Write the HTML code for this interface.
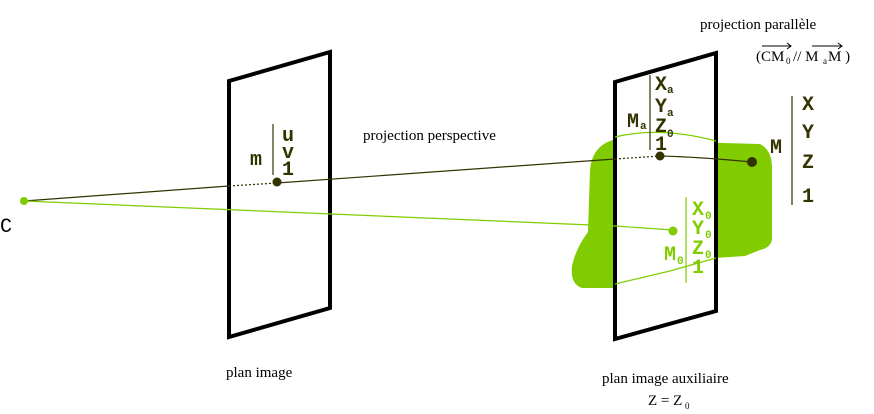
<!DOCTYPE html>
<html><head><meta charset="utf-8"><style>
html,body{margin:0;padding:0;background:#fff;}
svg{display:block}
.m{font-family:"Liberation Mono",monospace;font-weight:bold;}
.s{font-family:"Liberation Serif",serif;}
</style></head><body>
<svg width="874" height="414" viewBox="0 0 874 414" xmlns="http://www.w3.org/2000/svg">
<path d="M613,140 L760,144 Q772,150 772,168 L772,240 Q770,248 760,250 L745,256 L715,258 L614,288 L582,288 Q570,284 572,266 Q576,248 588,232 L590,170 Q592,146 613,140 Z" fill="#80cc00"/>
<polygon points="229,81 330,52 330,308 229,337" fill="#fff" stroke="#000" stroke-width="4"/>
<polygon points="615,82 716,53 716,311 615,339" fill="#fff" stroke="#000" stroke-width="4"/>
<path d="M615,137 Q660,126 716,141" fill="none" stroke="#80cc00" stroke-width="1.2"/>
<path d="M615,284 L670,271 L716,258" fill="none" stroke="#80cc00" stroke-width="1.2"/>
<g stroke="#333300" stroke-width="1.2" fill="none">
<line x1="24" y1="201" x2="229" y2="186"/>
<line x1="229" y1="186" x2="277" y2="183" stroke-dasharray="2,2"/>
<line x1="277" y1="183" x2="615" y2="159"/>
<line x1="615" y1="159" x2="660" y2="156" stroke-dasharray="2,2"/>
<path d="M660,156 Q700,157 752,162"/>
</g>
<g stroke="#80cc00" stroke-width="1.2" fill="none">
<line x1="24" y1="201" x2="615" y2="226"/>
<line x1="615" y1="226" x2="673" y2="230"/>
</g>
<circle cx="24" cy="201" r="4" fill="#80cc00"/>
<circle cx="277" cy="182" r="4.5" fill="#333300"/>
<circle cx="660" cy="156" r="4.5" fill="#333300"/>
<circle cx="752" cy="162" r="5" fill="#333300"/>
<circle cx="673" cy="231" r="4.5" fill="#80cc00"/>
<g stroke-width="1.2">
<line x1="273" y1="124" x2="273" y2="175" stroke="#333300"/>
<line x1="650" y1="75" x2="650" y2="150" stroke="#333300"/>
<line x1="792" y1="96" x2="792" y2="205" stroke="#333300"/>
<line x1="686" y1="197" x2="686" y2="283" stroke="#80cc00"/>
</g>
<g class="m" fill="#333300" font-size="20">
<text x="0" y="232" fill="#000" font-weight="normal">C</text>
<text x="250" y="165">m</text>
<text x="282" y="141">u</text>
<text x="282" y="158">v</text>
<text x="282" y="175">1</text>
<text x="627" y="127">M</text><text x="640" y="129" font-size="11">a</text>
<text x="655" y="90">X</text><text x="667" y="93" font-size="11">a</text>
<text x="655" y="112">Y</text><text x="667" y="116" font-size="11">a</text>
<text x="655" y="132">Z</text><text x="667" y="137" font-size="11">0</text>
<text x="655" y="150">1</text>
<text x="770" y="153">M</text>
<text x="802" y="110">X</text>
<text x="802" y="138">Y</text>
<text x="802" y="168">Z</text>
<text x="802" y="202">1</text>
</g>
<g class="m" fill="#80cc00" font-size="20">
<text x="664" y="260">M</text><text x="677" y="264" font-size="11">0</text>
<text x="692" y="215">X</text><text x="705" y="219" font-size="11">0</text>
<text x="692" y="234">Y</text><text x="705" y="238" font-size="11">0</text>
<text x="692" y="254">Z</text><text x="705" y="258" font-size="11">0</text>
<text x="692" y="273">1</text>
</g>
<g class="s" fill="#000" font-size="15">
<text x="363" y="140">projection perspective</text>
<text x="226" y="377">plan image</text>
<text x="602" y="383">plan image auxiliaire</text>
<text x="648" y="405">Z = Z</text><text x="685" y="409" font-size="9">0</text>
<text x="700" y="29">projection parallèle</text>
<text x="756" y="61">(CM</text><text x="786" y="64" font-size="9">0</text><text x="793" y="61">// M</text><text x="823" y="64" font-size="9">a</text><text x="828" y="61">M )</text>
</g>
<g stroke="#000" stroke-width="1" fill="none">
<path d="M762,46 L791,46 M787,43 L791,46 L787,49"/>
<path d="M812,46 L842,46 M838,43 L842,46 L838,49"/>
</g>
</svg>
</body></html>
